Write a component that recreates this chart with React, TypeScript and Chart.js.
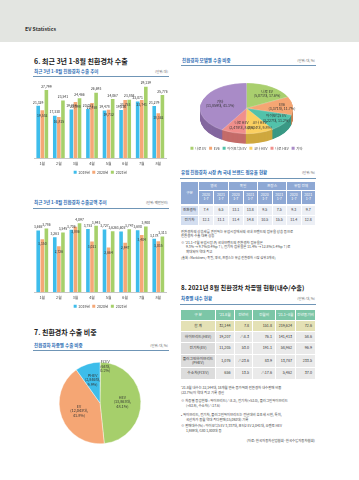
import React, { useEffect, useRef } from "react";
import { Chart, registerables } from "chart.js";
Chart.register(...registerables);

const FONT = '"Noto Sans CJK KR", "Noto Sans", sans-serif';

// ---------- data ----------
const months = ["1월", "2월", "3월", "4월", "5월", "6월", "7월", "8월"];
const years = ["2019년", "2020년", "2021년"];
const exportUnits2019 = [21329, 17330, 19854, 20053, 19478, 19630, 23071, 21279];
const exportUnits2020 = [19552, 16815, 22898, 22458, 19732, 23753, 23741, 18362];
const exportUnits2021 = [27799, 23541, 24466, 26693, 24067, 23858, 29139, 25776];
const exportAmount2019 = [3665, 3263, 3706, 3753, 3727, 3605, 3680, 3178];
const exportAmount2020 = [3150, 2726, 3886, 3021, 2664, 2947, 3404, 3035];
const exportAmount2021 = [3786, 3545, 4097, 3943, 3626, 3747, 3900, 3313];

const typeNames = ["FCEV", "HEV", "EV", "PHEV"];
const typeUnits = [64, 13863, 12043, 2846];

const modelNames = ["니로 EV", "EV6", "아이오닉5 EV", "코나 HEV", "니로 HEV", "기타"];
const modelUnits = [5071, 3371, 3227, 2824, 2478, 11859];

const euCountries = ["영국", "독일", "프랑스", "유럽 전체"];
const euPeriods = ["2020\n1-7", "2021\n1-7"];
const euRows = ["친환경차", "전기차"];
const euEcoShare = [7.4, 6.5, 13.1, 13.8, 9.5, 7.5, 9.3, 9.7];
const euEvShare = [12.1, 11.1, 11.4, 14.8, 10.5, 15.5, 11.4, 12.8];

const domHeaders = ["구 분", "'21.8월", "전년비", "전월비", "'21.1~8월", "전년동기비"];
const domTypes = ["합 계", "하이브리드(HEV)", "전기차(EV)", "플러그인하이브리드\n(PHEV)", "수소차(FCEV)"];
const domAug = [32144, 19207, 11205, 1076, 656];
const domYoY = [7.8, -8.3, 53.0, -23.6, 13.5];
const domMoM = [151.8, 76.1, 191.1, 83.9, -17.6];
const domYTD = [219624, 141413, 58962, 13787, 5462];
const domYTDYoY = [72.6, 58.6, 96.9, 233.5, 37.0];

// ---------- styles ----------
const BAR_COLORS = ["#3ebdeb", "#f5a877", "#a6d06a"];
const TYPE_COLORS = ["#8c8c8c", "#a6cf6b", "#f5a674", "#3dbdea"];
const MODEL_COLORS = ["#a9cf6e", "#f5a673", "#52c2aa", "#fbd061", "#f08f8c", "#a98bc7"];
const MODEL_SIDE = ["#84a852", "#c98152", "#3a9985", "#cfa83f", "#c46c6a", "#84679f"];

const fmt = (v: number) => v.toLocaleString("en-US");
const fmtSigned = (v: number) => (v < 0 ? "△" + Math.abs(v).toFixed(1) : v.toFixed(1));

const barLabelPlugin = {
  id: "barLabels",
  afterDatasetsDraw(chart: any) {
    const ctx = chart.ctx;
    ctx.save();
    ctx.font = `3.4px ${FONT}`;
    ctx.fillStyle = "#333";
    ctx.textAlign = "center";
    ctx.textBaseline = "middle";
    chart.data.datasets.forEach((ds: any, di: number) => {
      const meta = chart.getDatasetMeta(di);
      meta.data.forEach((bar: any, i: number) => {
        const y = di === 1 ? bar.y + 5 : bar.y - 3.5;
        ctx.fillText(fmt(ds.data[i]), bar.x, y);
      });
    });
    ctx.restore();
  },
};

function BarChart({ s1, s2, s3, max, left, top }: any) {
  const ref = useRef<HTMLCanvasElement>(null);
  useEffect(() => {
    const chart = new Chart(ref.current!, {
      type: "bar",
      data: {
        labels: months,
        datasets: [s1, s2, s3].map((d: number[], i: number) => ({
          label: years[i],
          data: d,
          backgroundColor: BAR_COLORS[i],
          borderWidth: 0,
          categoryPercentage: 0.74,
          barPercentage: 0.88,
        })),
      },
      options: {
        responsive: false,
        animation: false,
        devicePixelRatio: 1,
        layout: { padding: { left: 4, right: 3.4, top: 1, bottom: 0 } },
        plugins: {
          legend: {
            position: "bottom",
            labels: {
              boxWidth: 3,
              boxHeight: 3,
              padding: 2.5,
              color: "#444",
              font: { size: 3.6, family: FONT },
            },
          },
          tooltip: { enabled: false },
        },
        scales: {
          x: {
            grid: { display: false, drawTicks: false },
            border: { color: "#c8c8c8" },
            ticks: { color: "#444", padding: 2.5, font: { size: 3.8, family: FONT } },
          },
          y: { display: false, min: 0, max },
        },
      } as any,
      plugins: [barLabelPlugin],
    });
    return () => chart.destroy();
  }, []);
  return (
    <canvas ref={ref} width={140} height={106}
      style={{ position: "absolute", left, top, width: 140, height: 106 }} />
  );
}

const pieLabelPlugin = {
  id: "pieLabels",
  afterDatasetsDraw(chart: any) {
    const ctx = chart.ctx;
    const arcs = chart.getDatasetMeta(0).data;
    const data = chart.data.datasets[0].data as number[];
    const total = data.reduce((a, b) => a + b, 0);
    ctx.save();
    ctx.font = `3.8px ${FONT}`;
    ctx.fillStyle = "#333";
    ctx.textAlign = "center";
    ctx.textBaseline = "middle";
    arcs.forEach((a: any, i: number) => {
      const mid = (a.startAngle + a.endAngle) / 2;
      const small = data[i] / total < 0.02;
      const rr = a.outerRadius * (small ? 0.9 : i === 3 ? 0.6 : 0.55);
      const x = a.x + Math.cos(mid) * rr + (small ? 5 : 0);
      const y = a.y + Math.sin(mid) * rr;
      const lines = [typeNames[i], `(${fmt(data[i])}대,`, `${((data[i] / total) * 100).toFixed(1)}%)`];
      lines.forEach((t, j) => ctx.fillText(t, x, y + (j - 1) * 4.6));
    });
    ctx.restore();
  },
};

function TypePie() {
  const ref = useRef<HTMLCanvasElement>(null);
  useEffect(() => {
    const chart = new Chart(ref.current!, {
      type: "pie",
      data: {
        labels: typeNames,
        datasets: [{ data: typeUnits, backgroundColor: TYPE_COLORS, borderColor: "#fff", borderWidth: 0.4 }],
      },
      options: {
        responsive: false,
        animation: false,
        devicePixelRatio: 1,
        layout: { padding: 4 },
        plugins: { legend: { display: false }, tooltip: { enabled: false } },
      } as any,
      plugins: [pieLabelPlugin],
    });
    return () => chart.destroy();
  }, []);
  return (
    <canvas ref={ref} width={90} height={90}
      style={{ position: "absolute", left: 55, top: 358, width: 90, height: 90 }} />
  );
}

const pie3dPlugin = {
  id: "pie3d",
  beforeDatasetsDraw(chart: any) {
    const ctx = chart.ctx;
    const arcs = chart.getDatasetMeta(0).data;
    const data = chart.data.datasets[0].data as number[];
    const total = data.reduce((a, b) => a + b, 0);
    const k = 0.546;
    const depth = 10;
    const path = (a: any, dy: number) => {
      ctx.beginPath();
      ctx.save();
      ctx.translate(a.x, a.y + dy);
      ctx.scale(1, k);
      ctx.moveTo(0, 0);
      ctx.arc(0, 0, a.outerRadius, a.startAngle, a.endAngle);
      ctx.closePath();
      ctx.restore();
    };
    ctx.save();
    for (let d = depth; d >= 0.5; d -= 0.5) {
      arcs.forEach((a: any, i: number) => {
        path(a, d);
        ctx.fillStyle = MODEL_SIDE[i];
        ctx.fill();
      });
    }
    arcs.forEach((a: any, i: number) => {
      path(a, 0);
      ctx.fillStyle = MODEL_COLORS[i];
      ctx.fill();
      ctx.strokeStyle = "rgba(255,255,255,0.5)";
      ctx.lineWidth = 0.4;
      ctx.stroke();
    });
    ctx.font = `3.6px ${FONT}`;
    ctx.fillStyle = "#333";
    ctx.textAlign = "center";
    ctx.textBaseline = "middle";
    arcs.forEach((a: any, i: number) => {
      const mid = (a.startAngle + a.endAngle) / 2;
      const rr = a.outerRadius * 0.68;
      const x = a.x + Math.cos(mid) * rr + 4;
      const y = a.y + Math.sin(mid) * rr * k;
      ctx.fillText(modelNames[i], x, y - 2.3);
      ctx.fillText(`(${fmt(data[i])}대, ${((data[i] / total) * 100).toFixed(1)}%)`, x, y + 2.3);
    });
    ctx.restore();
    return false;
  },
};

function ModelPie3D() {
  const ref = useRef<HTMLCanvasElement>(null);
  useEffect(() => {
    const chart = new Chart(ref.current!, {
      type: "pie",
      data: {
        labels: modelNames,
        datasets: [{ data: modelUnits, backgroundColor: MODEL_COLORS, borderWidth: 0 }],
      },
      options: {
        responsive: false,
        animation: false,
        devicePixelRatio: 1,
        radius: 46.5,
        layout: { padding: { top: 15, right: 5, left: 0, bottom: 0 } },
        plugins: {
          legend: {
            position: "bottom",
            labels: { boxWidth: 3, boxHeight: 3, padding: 3, color: "#444", font: { size: 3.4, family: FONT } },
          },
          tooltip: { enabled: false },
        },
      } as any,
      plugins: [pie3dPlugin],
    });
    return () => chart.destroy();
  }, []);
  return (
    <canvas ref={ref} width={140} height={102}
      style={{ position: "absolute", left: 179, top: 58, width: 140, height: 102 }} />
  );
}

// ---------- layout helpers ----------
const Txt = ({ x, y, s = 4, w = 400, c = "#333", align = "left", children }: any) => {
  const style: any = {
    position: "absolute",
    top: y - s * 0.65,
    fontSize: s,
    lineHeight: `${s * 1.3}px`,
    fontWeight: w,
    color: c,
    whiteSpace: "pre",
  };
  if (align === "right") style.right = 359 - x;
  else style.left = x;
  return <div style={style}>{children}</div>;
};
const HLine = ({ x, y, w, c = "#6f95b6" }: any) => (
  <div style={{ position: "absolute", left: x, top: y, width: w, height: 0.8, background: c }} />
);

const td = (extra: any = {}) => ({
  padding: 0,
  border: "0.8px solid #fff",
  textAlign: "center" as const,
  verticalAlign: "middle" as const,
  lineHeight: "4.3px",
  whiteSpace: "pre-line" as const,
  ...extra,
});

function EuTable() {
  const hdr = { background: "#8ea8d4", color: "#fff" };
  const shares = [euEcoShare, euEvShare];
  return (
    <table style={{ position: "absolute", left: 180, top: 181, width: 135, borderCollapse: "collapse", tableLayout: "fixed", fontSize: 3.6, fontFamily: FONT, color: "#333" }}>
      <colgroup>
        <col style={{ width: 18 }} />
        {[15, 15, 14.5, 14.5, 14.5, 14.5, 14.5, 14.5].map((w, i) => <col key={i} style={{ width: w }} />)}
      </colgroup>
      <tbody>
        <tr style={{ height: 9 }}>
          <td rowSpan={2} style={td(hdr)}>구분</td>
          {euCountries.map((c) => <td key={c} colSpan={2} style={td(hdr)}>{c}</td>)}
        </tr>
        <tr style={{ height: 14 }}>
          {euCountries.map((c) => euPeriods.map((p) => <td key={c + p} style={td(hdr)}>{p}</td>))}
        </tr>
        {euRows.map((r, ri) => (
          <tr key={r} style={{ height: 10.5 }}>
            <td style={td({ background: "#d3def0", borderTop: ri === 0 ? "2px solid #fff" : undefined })}>{r}</td>
            {shares[ri].map((v, i) => (
              <td key={i} style={td({ background: "#eceff5", borderTop: ri === 0 ? "2px solid #fff" : undefined })}>{v.toFixed(1)}</td>
            ))}
          </tr>
        ))}
      </tbody>
    </table>
  );
}

function DomesticTable() {
  const rowH = [11, 11, 12, 13, 12];
  return (
    <table style={{ position: "absolute", left: 180, top: 309, width: 135, borderCollapse: "collapse", tableLayout: "fixed", fontSize: 3.7, fontFamily: FONT, color: "#333" }}>
      <colgroup>
        {[35, 18.5, 18.5, 23, 20, 20].map((w, i) => <col key={i} style={{ width: w }} />)}
      </colgroup>
      <tbody>
        <tr style={{ height: 11 }}>
          {domHeaders.map((h) => <td key={h} style={td({ background: "#7cc6a7", color: "#fff" })}>{h}</td>)}
        </tr>
        {domTypes.map((t, i) => {
          const bgL = i === 0 ? "#e4e1b5" : "#dcdcdc";
          const bgV = i === 0 ? "#e4e1b5" : "#eaeaea";
          const vals = [fmt(domAug[i]), fmtSigned(domYoY[i]), fmtSigned(domMoM[i]), fmt(domYTD[i]), fmtSigned(domYTDYoY[i])];
          return (
            <tr key={t} style={{ height: rowH[i] }}>
              <td style={td({ background: bgL })}>{t}</td>
              {vals.map((v, j) => (
                <td key={j} style={td({ background: bgV, textAlign: "right", paddingRight: 3 })}>{v}</td>
              ))}
            </tr>
          );
        })}
      </tbody>
    </table>
  );
}

export default function App() {
  const blue = "#2f6fb5";
  const note = "#444";
  return (
    <div style={{ position: "absolute", left: 0, top: 0, width: 359, height: 480, overflow: "hidden", background: "#fff", fontFamily: FONT }}>
      <div style={{ position: "absolute", left: 0, top: 0, width: 359, height: 42, background: "#e3e5e1" }} />
      <Txt x={25} y={29} s={5.2} w={700} c="#333">EV Statistics</Txt>

      {/* section 6 */}
      <Txt x={34} y={62} s={7} w={700} c="#222">6. 최근 3년 1-8월 친환경차 수출</Txt>
      <Txt x={34} y={72} s={4.5} w={700} c={blue}>최근 3년 1-8월 친환경차 수출 추이</Txt>
      <Txt x={168} y={72} s={3.3} c="#666" align="right">(단위: 대)</Txt>
      <HLine x={33} y={76.3} w={136} />
      <BarChart s1={exportUnits2019} s2={exportUnits2020} s3={exportUnits2021} max={32240} left={30} top={78} />

      <Txt x={34} y={203} s={4.5} w={700} c={blue}>최근 3년 1-8월 친환경차 수출금액 추이</Txt>
      <Txt x={168} y={203} s={3.3} c="#666" align="right">(단위: 백만달러)</Txt>
      <HLine x={33} y={207.8} w={136} />
      <BarChart s1={exportAmount2019} s2={exportAmount2020} s3={exportAmount2021} max={4704} left={30} top={212} />

      {/* section 7 */}
      <Txt x={34} y={333} s={7} w={700} c="#222">7. 친환경차 수출 비중</Txt>
      <Txt x={34} y={346} s={4.5} w={700} c={blue}>친환경차 차종별 수출 비중</Txt>
      <Txt x={168} y={346} s={3.3} c="#666" align="right">(단위: 대, %)</Txt>
      <HLine x={33} y={350.3} w={136} />
      <TypePie />

      {/* right column */}
      <Txt x={182} y={61} s={4.5} w={700} c={blue}>친환경차 모델별 수출 비중</Txt>
      <Txt x={315} y={61} s={3.3} c="#666" align="right">(단위: 대, %)</Txt>
      <HLine x={181} y={65.3} w={135} />
      <ModelPie3D />

      <Txt x={181} y={173} s={4.5} w={700} c={blue}>유럽 친환경차 시장 內 국내 브랜드 점유율 현황</Txt>
      <Txt x={315} y={173} s={3.3} c="#666" align="right">(단위: %)</Txt>
      <HLine x={180} y={177.8} w={136} />
      <EuTable />
      <Txt x={181} y={232} s={3.4} c={note}>친환경차의 상승세를 견인하는 유럽시장에서의 국내 브랜드의 점유율 상승 등으로</Txt>
      <Txt x={181} y={236.5} s={3.4} c={note}>친환경차 수출 대폭 상승</Txt>
      <Txt x={181} y={243} s={3.4} c={note}>※ '21.1~7월 유럽시장 內 국내브랜드의 친환경차 점유율은</Txt>
      <Txt x={186} y={247.5} s={3.4} c={note}>9.3% → 9.7%(0.4%p↑), 전기차 점유율은 11.4% → 12.8%(1.4%p↑)로</Txt>
      <Txt x={186} y={252} s={3.4} c={note}>확대되어 역대 최고</Txt>
      <Txt x={181} y={258} s={3.2} c={note}>(출처 : Marklines / 독일, 영국, 프랑스는 유럽 친환경차 시장 상위 3개국)</Txt>

      {/* section 8 */}
      <Txt x={181} y={288} s={6.2} w={700} c="#222">8. 2021년 8월 친환경차 차종별 현황(내수/수출)</Txt>
      <Txt x={181} y={299} s={4.5} w={700} c={blue}>차종별 내수 현황</Txt>
      <Txt x={315} y={299} s={3.3} c="#666" align="right">(단위: 대, %)</Txt>
      <HLine x={180} y={303.5} w={136} />
      <DomesticTable />
      <Txt x={181} y={388.5} s={3.4} c={note}>'21.8월 내수는 32,144대, 18개월 연속 증가하며 친환경차 내수판매 비중</Txt>
      <Txt x={181} y={393.3} s={3.4} c={note}>(23.7%)이 역대 최고 기록 경신</Txt>
      <Txt x={181} y={401.7} s={3.4} c={note}>※ 차종별 증감현황 : 하이브리드(△8.3), 전기차(+53.0), 플러그인하이브리드</Txt>
      <Txt x={186} y={406.5} s={3.4} c={note}>(+83.9), 수소차(△17.6)</Txt>
      <Txt x={181} y={415} s={3.4} c={note}>• 하이브리드, 전기차, 플러그인하이브리드는 전년대비 호조세 시현, 특히,</Txt>
      <Txt x={186} y={419.8} s={3.4} c={note}>국산차가 동월 역대 최다판매(15,093대) 기록</Txt>
      <Txt x={181} y={426.5} s={3.4} c={note}>※ 판매대수(%) : 아이오닉5 EV 3,337대, 포터2 EV 2,041대, 쏘렌토 HEV</Txt>
      <Txt x={186} y={431.2} s={3.4} c={note}>1,989대, G80 1,800대 등</Txt>
      <Txt x={315} y={441.5} s={3.4} c={note} align="right">(자료: 한국자동차산업협회·한국수입자동차협회)</Txt>
    </div>
  );
}
